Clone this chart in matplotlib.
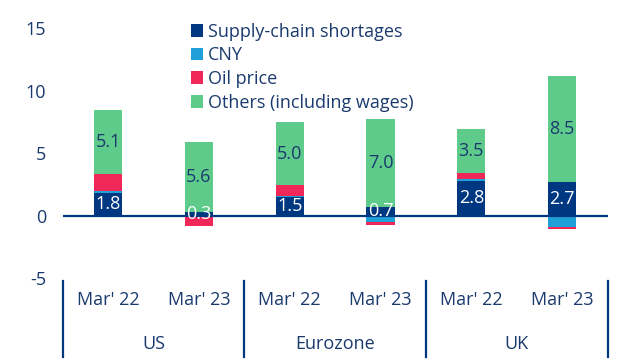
import numpy as np
import matplotlib.pyplot as plt

plt.rcParams['font.family'] = ['Open Sans', 'DejaVu Sans']

NAVY = '#003781'
TEXT = '#1a3a6e'

periods = ["Mar' 22", "Mar' 23"] * 3
regions = ["US", "Eurozone", "UK"]
series_names = ["Supply-chain shortages", "CNY", "Oil price", "Others (including wages)"]
colors = [NAVY, '#1fa0d8', '#f0285a', '#5fcb8b']

supply = [1.8, 0.3, 1.5, 0.7, 2.8, 2.7]
cny = [0.15, 0.0, 0.1, -0.5, 0.15, -0.9]
oil = [1.4, -0.8, 0.85, -0.25, 0.45, -0.2]
others = [5.1, 5.6, 5.0, 7.0, 3.5, 8.5]
series = [supply, cny, oil, others]

FS = 13

fig = plt.figure(figsize=(6.31, 3.64), dpi=100)
ax = fig.add_axes([0.0992, 0.236, 0.8636, 0.687])

x = np.arange(len(periods))
pos_base = np.zeros(len(x))
neg_base = np.zeros(len(x))
bars = []
for vals, name, c in zip(series, series_names, colors):
    vals = np.array(vals)
    bottom = np.where(vals >= 0, pos_base, neg_base)
    b = ax.bar(x, vals, 0.31, bottom=bottom, color=c, label=name, zorder=2)
    bars.append((b, vals, bottom))
    pos_base = pos_base + np.where(vals >= 0, vals, 0)
    neg_base = neg_base + np.where(vals < 0, vals, 0)

# value labels for supply-chain and others
for i in range(len(x)):
    ax.text(x[i], supply[i] / 2, f"{supply[i]:.1f}", ha='center', va='center',
            color='white', fontsize=FS, zorder=4)
    b, vals, bottom = bars[3]
    ax.text(x[i], bottom[i] + vals[i] / 2, f"{vals[i]:.1f}", ha='center', va='center',
            color=TEXT, fontsize=FS, zorder=4)

ax.axhline(0, color=NAVY, lw=1.6, zorder=3)
ax.set_xlim(-0.5, 5.5)
ax.set_ylim(-5, 15)
ax.set_yticks([-5, 0, 5, 10, 15])
ax.set_yticklabels(['-5', '0', '5', '10', '15'])
ax.tick_params(axis='y', length=0, labelsize=FS, labelcolor=TEXT, pad=12)
ax.set_xticks([])
for s in ax.spines.values():
    s.set_visible(False)

tr = ax.get_xaxis_transform()
for sx in [-0.5, 1.5, 3.5, 5.5]:
    ax.plot([sx, sx], [-0.012, -0.316], color=NAVY, lw=1.6, transform=tr, clip_on=False)
for i, p in enumerate(periods):
    ax.text(x[i], -0.088, p, transform=tr, ha='center', va='center', color=TEXT, fontsize=FS)
for j, r in enumerate(regions):
    ax.text(2 * j + 0.5, -0.264, r, transform=tr, ha='center', va='center', color=TEXT, fontsize=FS)

leg = ax.legend(loc='upper left', bbox_to_anchor=(0.302, 0.938), bbox_transform=fig.transFigure,
                frameon=False, fontsize=FS, handlelength=0.7, handleheight=0.7,
                handletextpad=0.25, labelspacing=0.32, borderaxespad=0, borderpad=0)
for t in leg.get_texts():
    t.set_color(TEXT)

fig.savefig('out.png', dpi=100)
